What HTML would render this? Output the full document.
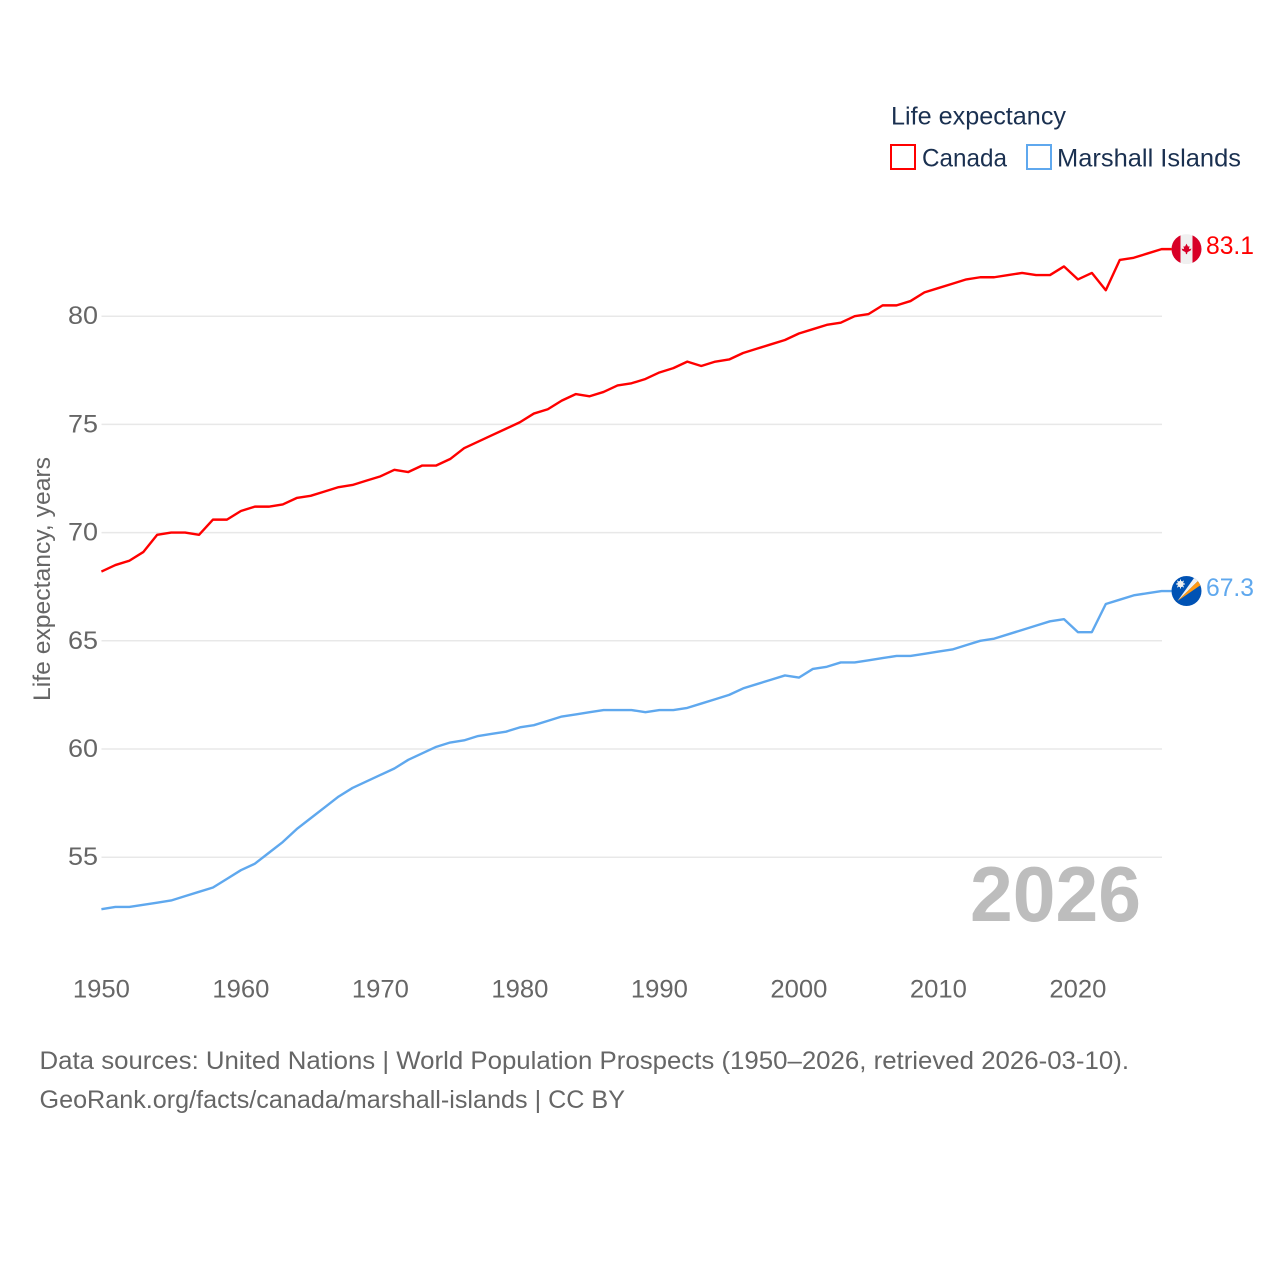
<!DOCTYPE html>
<html lang="en">
<head>
<meta charset="utf-8">
<title>Life expectancy: Canada and Marshall Islands</title>
<style>
html,body{margin:0;padding:0;background:#fff;width:1280px;height:1280px;overflow:hidden}
svg{display:block}
text{font-family:"Liberation Sans",sans-serif}
</style>
</head>
<body>
<svg id="chart" xmlns="http://www.w3.org/2000/svg" width="1280" height="1280" viewBox="0 0 1280 1280">
  <defs>
    <clipPath id="flag-clip"><circle cx="0" cy="0" r="15"/></clipPath>
  </defs>
  <g id="grid"></g>
  <g id="yticks"></g>
  <g id="xticks"></g>
  <text transform="translate(50,579) rotate(-90)" text-anchor="middle" font-size="24" fill="#666" textLength="244" lengthAdjust="spacingAndGlyphs">Life expectancy, years</text>
  <text x="970" y="921" font-size="78" font-weight="700" fill="#bdbdbd" textLength="171" lengthAdjust="spacingAndGlyphs">2026</text>
  <g id="series"></g>

  <g id="flag-canada">
    <g clip-path="url(#flag-clip)">
      <rect x="-15" y="-15" width="30" height="30" fill="#f0f0f0"/>
      <rect x="-15" y="-15" width="9" height="30" fill="#d80027"/>
      <rect x="6" y="-15" width="9" height="30" fill="#d80027"/>
      <path d="M0,-5.5 L1.5,-2.5 L3,-3 L2.5,0 L5,-0.5 L4,1.5 L1,3 L0.5,5 L-0.5,5 L-1,3 L-4,1.5 L-5,-0.5 L-2.5,0 L-3,-3 L-1.5,-2.5 Z" fill="#d80027"/>
    </g>
  </g>
  <g id="flag-marshall">
    <g clip-path="url(#flag-clip)">
      <rect x="-15" y="-15" width="30" height="30" fill="#0052b4"/>
      <path d="M-9,10 L9,-15 L12.5,-11 Z" fill="#f0f0f0"/>
      <path d="M-9,10 L12.5,-11 L15,-6.5 Z" fill="#ff9811"/>
      <circle cx="-6" cy="-7" r="3.2" fill="#f0f0f0"/>
      <path d="M-6,-11.5 L-6,-2.5 M-10.5,-7 L-1.5,-7 M-9.2,-10.2 L-2.8,-3.8 M-9.2,-3.8 L-2.8,-10.2" stroke="#f0f0f0" stroke-width="1"/>
    </g>
  </g>

  <g>
    <text x="891" y="124.5" font-size="25" fill="#1a3050" textLength="175" lengthAdjust="spacingAndGlyphs">Life expectancy</text>
    <g>
      <rect x="891" y="145" width="24" height="24" fill="none" stroke="#ff0000" stroke-width="2"/>
      <text x="922" y="166.5" font-size="25" fill="#1a3050" textLength="85" lengthAdjust="spacingAndGlyphs">Canada</text>
    </g>
    <g>
      <rect x="1027" y="145" width="24" height="24" fill="none" stroke="#5fa8ee" stroke-width="2"/>
      <text x="1057" y="166.5" font-size="25" fill="#1a3050" textLength="184" lengthAdjust="spacingAndGlyphs">Marshall Islands</text>
    </g>
  </g>

  <text x="39.5" y="1069" font-size="25" fill="#666" textLength="1089.5" lengthAdjust="spacingAndGlyphs">Data sources: United Nations | World Population Prospects (1950–2026, retrieved 2026-03-10).</text>
  <text x="39.5" y="1108" font-size="25" fill="#666" textLength="585.5" lengthAdjust="spacingAndGlyphs">GeoRank.org/facts/canada/marshall-islands | CC BY</text>
</svg>
<script>
const firstYear = 1950;
const yTickValues = [55, 60, 65, 70, 75, 80];
const xTickValues = [1950, 1960, 1970, 1980, 1990, 2000, 2010, 2020];
const canadaValues = [
  68.2,68.5,68.7,69.1,69.9,70.0,70.0,69.9,70.6,70.6,
  71.0,71.2,71.2,71.3,71.6,71.7,71.9,72.1,72.2,72.4,
  72.6,72.9,72.8,73.1,73.1,73.4,73.9,74.2,74.5,74.8,
  75.1,75.5,75.7,76.1,76.4,76.3,76.5,76.8,76.9,77.1,
  77.4,77.6,77.9,77.7,77.9,78.0,78.3,78.5,78.7,78.9,
  79.2,79.4,79.6,79.7,80.0,80.1,80.5,80.5,80.7,81.1,
  81.3,81.5,81.7,81.8,81.8,81.9,82.0,81.9,81.9,82.3,
  81.7,82.0,81.2,82.6,82.7,82.9,83.1
];
const marshallValues = [
  52.6,52.7,52.7,52.8,52.9,53.0,53.2,53.4,53.6,54.0,
  54.4,54.7,55.2,55.7,56.3,56.8,57.3,57.8,58.2,58.5,
  58.8,59.1,59.5,59.8,60.1,60.3,60.4,60.6,60.7,60.8,
  61.0,61.1,61.3,61.5,61.6,61.7,61.8,61.8,61.8,61.7,
  61.8,61.8,61.9,62.1,62.3,62.5,62.8,63.0,63.2,63.4,
  63.3,63.7,63.8,64.0,64.0,64.1,64.2,64.3,64.3,64.4,
  64.5,64.6,64.8,65.0,65.1,65.3,65.5,65.7,65.9,66.0,
  65.4,65.4,66.7,66.9,67.1,67.2,67.3
];

const SVG_NS = 'http://www.w3.org/2000/svg';
const xScale = year => 101.4 + (year - 1950) * 13.95;
const yScale = value => 316.2 - (value - 80) * 21.64;
const plotRight = 1162;
const flagX = 1186.5;

function make(tag, parent, attrs, text) {
  const el = document.createElementNS(SVG_NS, tag);
  for (const k in attrs) el.setAttribute(k, attrs[k]);
  if (text !== undefined) el.textContent = text;
  parent.appendChild(el);
  return el;
}

const grid = document.getElementById('grid');
const yticks = document.getElementById('yticks');
yTickValues.forEach(v => {
  const line = make('line', grid, {x1: 101.5, x2: plotRight, y1: yScale(v), y2: yScale(v), stroke: '#e8e8e8', 'stroke-width': 1.5});
  
  
  const label = make('text', yticks, {x: 98, y: yScale(v) + 8, 'text-anchor': 'end', 'font-size': 25, fill: '#666', textLength: 30, lengthAdjust: 'spacingAndGlyphs'}, String(v));
  
  
});

const xticks = document.getElementById('xticks');
xTickValues.forEach(yr => {
  const label = make('text', xticks, {x: xScale(yr), y: 997.5, 'text-anchor': 'middle', 'font-size': 25, fill: '#666', textLength: 57, lengthAdjust: 'spacingAndGlyphs'}, String(yr));
  
  
});

const series = document.getElementById('series');
function drawSeries(values, color) {
  const pts = values.map((v, i) => xScale(firstYear + i).toFixed(2) + ',' + yScale(v).toFixed(2));
  const last = values[values.length - 1];
  pts.push((flagX - 15) + ',' + yScale(last).toFixed(2));
  const line = make('polyline', series, {points: pts.join(' '), fill: 'none', stroke: color, 'stroke-width': 2.4, 'stroke-linejoin': 'round'});
  
  
  const label = make('text', series, {x: 1206, y: yScale(last) + 5, 'font-size': 25, fill: color, textLength: 48, lengthAdjust: 'spacingAndGlyphs'}, last.toFixed(1));
  
  
}
drawSeries(canadaValues, '#ff0000');
drawSeries(marshallValues, '#5fa8ee');

document.getElementById('flag-canada').setAttribute('transform', 'translate(' + flagX + ',' + yScale(canadaValues[canadaValues.length - 1]) + ')');
document.getElementById('flag-marshall').setAttribute('transform', 'translate(' + flagX + ',' + yScale(marshallValues[marshallValues.length - 1]) + ')');
</script>
</body>
</html>
